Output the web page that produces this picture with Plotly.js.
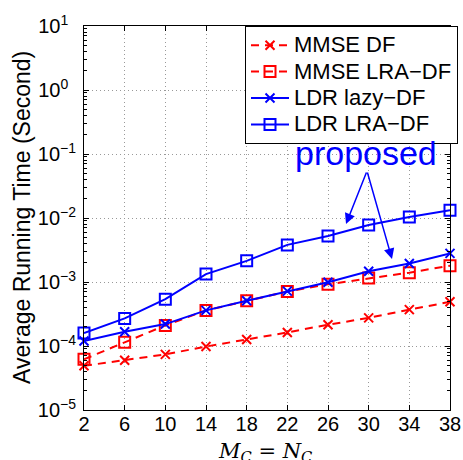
<!DOCTYPE html>
<html>
<head>
<meta charset="utf-8">
<script src="https://cdn.plot.ly/plotly-3.0.1.min.js"></script>
<style>html,body{margin:0;padding:0;background:#fff;}#chart{width:463px;height:460px;}</style>
</head>
<body>
<div id="chart"></div>
<script>
const xVals = [2, 6, 10, 14, 18, 22, 26, 30, 34, 38];
const mmseDF = [4.9e-5, 6.0e-5, 7.4e-5, 9.8e-5, 1.26e-4, 1.63e-4, 2.15e-4, 2.75e-4, 3.7e-4, 4.9e-4];
const mmseLRA = [6.2e-5, 1.14e-4, 2.1e-4, 3.6e-4, 5.1e-4, 7.1e-4, 9.2e-4, 1.15e-3, 1.4e-3, 1.8e-3];
const ldrLazy = [1.2e-4, 1.67e-4, 2.2e-4, 3.6e-4, 5.1e-4, 7.2e-4, 9.9e-4, 1.47e-3, 1.94e-3, 2.8e-3];
const ldrLRA = [1.6e-4, 2.7e-4, 5.4e-4, 1.33e-3, 2.14e-3, 3.8e-3, 5.25e-3, 7.8e-3, 1.04e-2, 1.32e-2];
const seriesNames = ['MMSE DF', 'MMSE LRA\u2212DF', 'LDR lazy\u2212DF', 'LDR LRA\u2212DF'];
const xTickVals = [2, 6, 10, 14, 18, 22, 26, 30, 34, 38];
const yTickVals = [1e-5, 1e-4, 1e-3, 1e-2, 1e-1, 1e0, 1e1];
const yTickExp = ['\u22125', '\u22124', '\u22123', '\u22122', '\u22121', '0', '1'];

const RED = '#ff0000', BLUE = '#0000ff';
const FONT = 'Liberation Sans, Arial, sans-serif';

// pad short exponents so that the "10" bases line up like the reference
const yTickText = yTickExp.map(e => '10<sup>' + e + (e.length < 2 ? '\u2007' : '') + '</sup>');

function trace(y, name, color, dash, symbol, size) {
  return {
    x: xVals, y: y, type: 'scatter', mode: 'lines+markers',
    name: '<span style="font-size:22px">' + name + '</span>',
    cliponaxis: false,
    line: {color: color, width: 2, dash: dash},
    marker: {symbol: symbol, size: size, color: color, line: {color: color, width: 2}}
  };
}

const data = [
  trace(mmseDF, seriesNames[0], RED, '8px,6px', 'x-thin-open', 9),
  trace(mmseLRA, seriesNames[1], RED, '8px,6px', 'square-open', 11),
  trace(ldrLazy, seriesNames[2], BLUE, 'solid', 'x-thin-open', 9),
  trace(ldrLRA, seriesNames[3], BLUE, 'solid', 'square-open', 11)
];

const L = 84, R = 13, T = 26, B = 50, W = 463, H = 460;
const pw = W - L - R, ph = H - T - B;
function px(x) { return (x - L) / pw; }
function py(y) { return (H - B - y) / ph; }

const layout = {
  width: W, height: H,
  margin: {l: L, r: R, t: T, b: B, autoexpand: false},
  paper_bgcolor: '#fff', plot_bgcolor: '#fff',
  font: {family: FONT, size: 20, color: '#000'},
  showlegend: true,
  legend: {
    x: px(245), y: 1, xanchor: 'left', yanchor: 'top',
    bgcolor: '#fff', bordercolor: '#000', borderwidth: 1,
    font: {family: FONT, size: 18, color: '#000'},
    itemwidth: 38,
    traceorder: 'normal'
  },
  xaxis: {
    range: [2, 38], tickmode: 'array', tickvals: xTickVals,
    ticks: 'inside', ticklen: 5, tickcolor: '#000', tickwidth: 1,
    showline: true, linecolor: '#000', linewidth: 1, mirror: 'ticks',
    showgrid: true, gridcolor: '#999', griddash: '1px,3px', gridwidth: 1,
    zeroline: false, ticklabelstandoff: -4, automargin: false,
    tickfont: {family: FONT, size: 20, color: '#000'}
  },
  yaxis: {
    type: 'log', range: [-5, 1], tickmode: 'array', tickvals: yTickVals, ticktext: yTickText,
    ticks: 'inside', ticklen: 5, tickcolor: '#000', tickwidth: 1,
    showline: true, linecolor: '#000', linewidth: 1, mirror: 'ticks',
    showgrid: true, gridcolor: '#999', griddash: '1px,3px', gridwidth: 1,
    zeroline: false, ticklabelstandoff: 3, automargin: false,
    minor: {ticks: 'inside', ticklen: 3, tickcolor: '#000', dtick: 'D1', showgrid: false},
    tickfont: {family: FONT, size: 20, color: '#000'}
  },
  annotations: [
    {xref: 'paper', yref: 'paper', x: px(366), y: py(153), xanchor: 'center', yanchor: 'middle',
     text: 'proposed', showarrow: false, font: {family: FONT, size: 34, color: BLUE}},
    {xref: 'paper', yref: 'paper', x: px(346), y: py(224), text: '', showarrow: true,
     ax: 21, ay: -53, arrowhead: 2, arrowsize: 1.4, arrowwidth: 1.5, arrowcolor: BLUE, standoff: 0},
    {xref: 'paper', yref: 'paper', x: px(392), y: py(259), text: '', showarrow: true,
     ax: -25, ay: -88, arrowhead: 2, arrowsize: 1.4, arrowwidth: 1.5, arrowcolor: BLUE, standoff: 0},
    {xref: 'paper', yref: 'paper', x: px(22), y: py(218), xanchor: 'center', yanchor: 'middle',
     text: 'Average Running Time (Second)', textangle: -90, showarrow: false,
     font: {family: FONT, size: 23, color: '#000'}},
    {xref: 'paper', yref: 'paper', x: px(265), y: py(452), xanchor: 'center', yanchor: 'middle',
     text: '<i>M</i><sub><i>C</i></sub> = <i>N</i><sub><i>C</i></sub>', showarrow: false,
     font: {family: 'DejaVu Serif, Liberation Serif, serif', size: 21, color: '#000'}}
  ]
};

Plotly.newPlot('chart', data, layout, {displayModeBar: false, staticPlot: true});
</script>
</body>
</html>
